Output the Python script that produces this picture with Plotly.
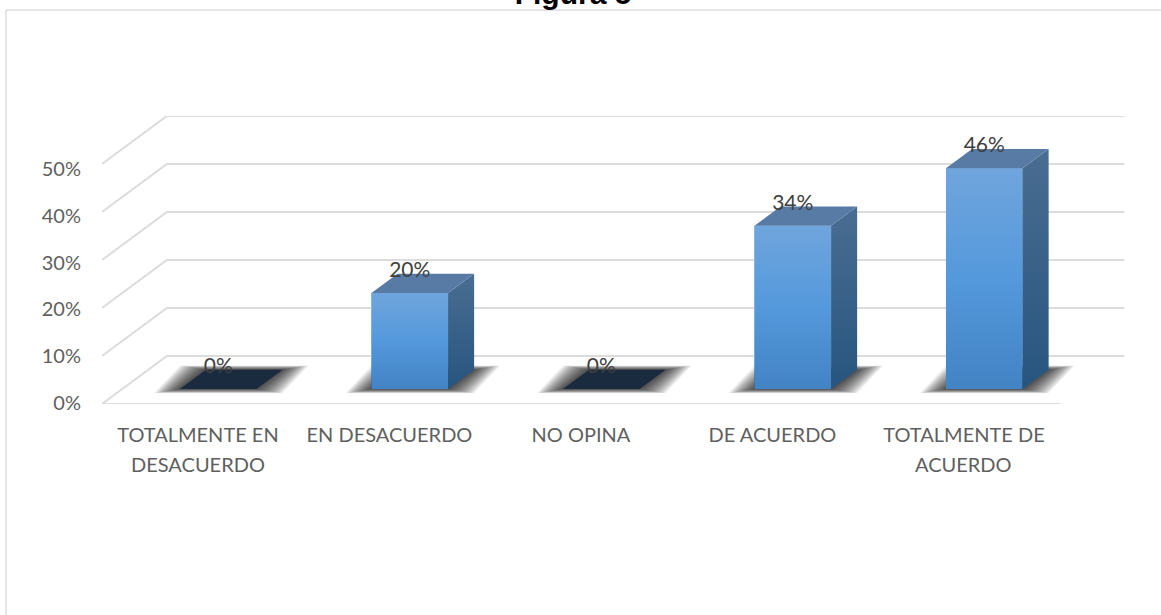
import plotly.graph_objects as go

# ---- data ----
categories_line1 = ["TOTALMENTE EN", "EN DESACUERDO", "NO OPINA", "DE ACUERDO", "TOTALMENTE DE"]
categories_line2 = ["DESACUERDO", "", "", "", "ACUERDO"]
values = [0, 20, 0, 34, 46]
value_labels = ["0%", "20%", "0%", "34%", "46%"]
y_ticks = [0, 10, 20, 30, 40, 50]
y_tick_labels = ["0%", "10%", "20%", "30%", "40%", "50%"]
title_text = "Figura 5"

# ---- page geometry ----
W, H = 1161, 615
L, R, T, B = 102, 35, 116, 211
pw, ph = W - L - R, H - T - B

# ---- pseudo-3D projection, in axis units ----
wall_dx, wall_dy = 0.339, 10.0      # floor depth
bar_w = 0.40
bar_off_x, bar_off_y = 0.106, 3.125 # bar front plane sits inside the floor
bar_dx, bar_dy = 0.136, 4.0         # bar depth

GRID = "#dcdcdc"
FONT = "Lato"
fig = go.Figure()


def poly(xs, ys, fill=None, grad=None):
    kw = dict(fillgradient=dict(type="vertical", colorscale=grad)) if grad else dict(fillcolor=fill)
    fig.add_trace(go.Scatter(x=xs + xs[:1], y=ys + ys[:1], mode="lines", fill="toself",
                             line=dict(width=0, color="rgba(0,0,0,0)"), hoverinfo="skip",
                             showlegend=False, **kw))


# gridlines: left wall diagonal + back wall
x_left, x_right = -0.501, 4.499
for v in y_ticks:
    fig.add_trace(go.Scatter(x=[x_left, x_left + wall_dx, x_right + wall_dx],
                             y=[v, v + wall_dy, v + wall_dy], mode="lines",
                             line=dict(color=GRID, width=2), hoverinfo="skip", showlegend=False))
fig.add_trace(go.Scatter(x=[x_left, x_right], y=[0, 0], mode="lines", cliponaxis=False,
                         line=dict(color=GRID, width=2), hoverinfo="skip", showlegend=False))

centres = [i + bar_off_x for i in range(len(values))]

# soft floor shadows
for c in centres:
    xa, xb = c - bar_w / 2, c + bar_w / 2
    for k in range(24, 0, -1):
        ax, ay = 0.0057 * k, 0.037 * k
        poly([xa - ax, xb + ax, xb + bar_dx + ax, xa + bar_dx - ax],
             [bar_off_y - ay, bar_off_y - ay, bar_off_y + bar_dy + ay, bar_off_y + bar_dy + ay],
             fill="rgba(0,0,0,0.045)")

# front faces through a real bar trace
fig.add_trace(go.Bar(x=centres, y=values, base=bar_off_y, width=bar_w,
                     marker=dict(color="#5597d9", line=dict(width=0)), hoverinfo="skip", showlegend=False))

FRONT = [[0, "#4283c4"], [0.5, "#5499dc"], [1, "#70a5dd"]]
SIDE = [[0, "#27557f"], [1, "#4a6d92"]]
for c, v in zip(centres, values):
    xa, xb = c - bar_w / 2, c + bar_w / 2
    top = bar_off_y + v
    if v > 0:
        poly([xa, xb, xb, xa], [bar_off_y, bar_off_y, top, top], grad=FRONT)
        poly([xb, xb + bar_dx, xb + bar_dx, xb], [bar_off_y, bar_off_y + bar_dy, top + bar_dy, top], grad=SIDE)
    poly([xa, xb, xb + bar_dx, xa + bar_dx], [top, top, top + bar_dy, top + bar_dy],
         fill="#587ba6" if v > 0 else "#1a2b40")

# value labels
fig.add_trace(go.Scatter(x=centres, y=[bar_off_y + v + 4.45 for v in values], mode="text", text=value_labels,
                         textposition="middle center", cliponaxis=False, hoverinfo="skip", showlegend=False,
                         textfont=dict(family=FONT, size=21, color="#404040")))

# second lines of the category labels
annotations = [dict(x=i, y=0, xref="x", yref="y", yshift=-60, text=t, showarrow=False,
                    font=dict(family=FONT, size=20, color="#5f5f5f"))
               for i, t in enumerate(categories_line2) if t]

# chart-area border (left and top only are visible)
bx, by = (6 - L) / pw, 1 + (T - 10) / ph
shapes = [dict(type="line", xref="paper", yref="paper", x0=bx, x1=(W - L) / pw, y0=by, y1=by,
               line=dict(color=GRID, width=1.5)),
          dict(type="line", xref="paper", yref="paper", x0=bx, x1=bx, y0=by, y1=-B / ph,
               line=dict(color=GRID, width=1.5))]

# the printed y labels run on a slightly tighter pitch than the drawn gridlines
tick_positions = [0.2 + v * 0.975 for v in y_ticks]

fig.update_layout(
    width=W, height=H, autosize=False,
    margin=dict(l=L, r=R, t=T, b=B), paper_bgcolor="white", plot_bgcolor="white",
    showlegend=False, annotations=annotations, shapes=shapes,
    title=dict(text=f"<b>{title_text}</b>", x=573 / W, xanchor="center", y=1 - 4 / H, yanchor="bottom",
               yref="container", font=dict(family="Liberation Sans", size=30, color="#000000")),
    xaxis=dict(range=[x_left, (W - R - 198) / 191.5], tickmode="array", tickvals=list(range(len(values))),
               ticktext=categories_line1, showgrid=False, zeroline=False, showline=False, ticks="",
               ticklabelstandoff=17, tickangle=0, tickfont=dict(family=FONT, size=20, color="#5f5f5f")),
    yaxis=dict(range=[0, 60], tickmode="array", tickvals=tick_positions, ticktext=y_tick_labels, showgrid=False,
               zeroline=False, showline=False, ticks="", ticklabelstandoff=20,
               tickfont=dict(family=FONT, size=20, color="#5f5f5f")),
)
fig.write_html("out.html", config={"displayModeBar": False},
               post_script="document.body.style.margin='0';document.body.style.overflow='hidden';")
